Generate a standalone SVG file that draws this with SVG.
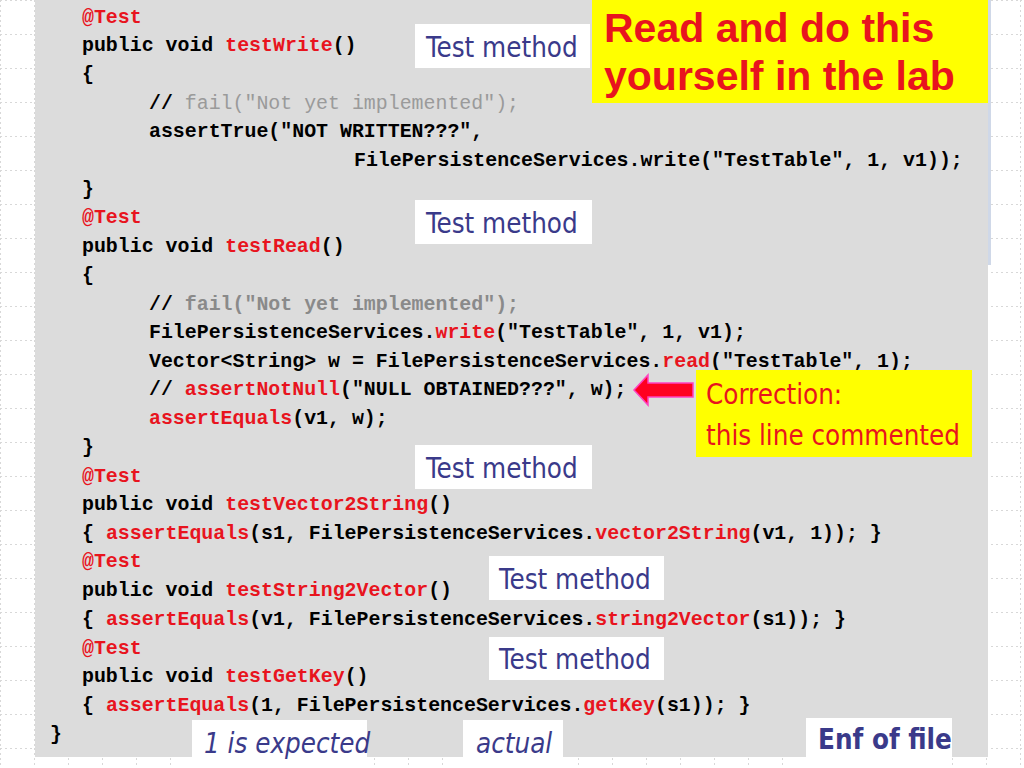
<svg xmlns="http://www.w3.org/2000/svg" width="1024" height="768" viewBox="0 0 1024 768">
<style>
.c{font-family:"Liberation Mono",monospace;font-weight:bold;font-size:19.9px;fill:#000;white-space:pre}
.r{fill:#e8141e}.g{fill:#9a9a9a;font-weight:normal}.g2{fill:#8a8a8a}
.lb{fill:#fff}
.lt{font-family:"DejaVu Sans Condensed","Liberation Sans",sans-serif;font-size:27.5px;fill:#3a3a8a}
</style>
<defs>
<pattern id="grid" width="34" height="34" patternUnits="userSpaceOnUse">
<path d="M0 0.5H34M0.5 0V34" stroke="#d8d8d8" stroke-dasharray="2 3" fill="none"/>
</pattern>
</defs>
<rect width="1024" height="768" fill="#fff"/>
<rect width="1024" height="768" fill="url(#grid)"/>
<rect x="35" y="0" width="953" height="757" fill="#dcdcdc"/>
<rect x="988" y="0" width="3" height="265" fill="#cfd8e8"/>
<g id="code" class="c">
<text x="82" y="23" class="r">@Test</text>
<text x="82" y="51">public void <tspan class="r">testWrite</tspan>()</text>
<text x="82" y="80">{</text>
<text x="149" y="109">// <tspan class="g">fail("Not yet implemented");</tspan></text>
<text x="149" y="137">assertTrue("NOT WRITTEN???",</text>
<text x="354" y="166">FilePersistenceServices.write("TestTable", 1, v1));</text>
<text x="82" y="195">}</text>
<text x="82" y="223" class="r">@Test</text>
<text x="82" y="252">public void <tspan class="r">testRead</tspan>()</text>
<text x="82" y="281">{</text>
<text x="149" y="310">// <tspan class="g2">fail("Not yet implemented");</tspan></text>
<text x="149" y="338">FilePersistenceServices.<tspan class="r">write</tspan>("TestTable", 1, v1);</text>
<text x="149" y="367">Vector&lt;String&gt; w = FilePersistenceServices.<tspan class="r">read</tspan>("TestTable", 1);</text>
<text x="149" y="395">// <tspan class="r">assertNotNull</tspan>("NULL OBTAINED???", w);</text>
<text x="149" y="424"><tspan class="r">assertEquals</tspan>(v1, w);</text>
<text x="82" y="453">}</text>
<text x="82" y="482" class="r">@Test</text>
<text x="82" y="510">public void <tspan class="r">testVector2String</tspan>()</text>
<text x="82" y="539">{ <tspan class="r">assertEquals</tspan>(s1, FilePersistenceServices.<tspan class="r">vector2String</tspan>(v1, 1)); }</text>
<text x="82" y="567" class="r">@Test</text>
<text x="82" y="596">public void <tspan class="r">testString2Vector</tspan>()</text>
<text x="82" y="625">{ <tspan class="r">assertEquals</tspan>(v1, FilePersistenceServices.<tspan class="r">string2Vector</tspan>(s1)); }</text>
<text x="82" y="654" class="r">@Test</text>
<text x="82" y="682">public void <tspan class="r">testGetKey</tspan>()</text>
<text x="82" y="711">{ <tspan class="r">assertEquals</tspan>(1, FilePersistenceServices.<tspan class="r">getKey</tspan>(s1)); }</text>
<text x="50" y="740">}</text>
</g>
<g id="tm1"><rect x="415" y="24" width="175" height="44" class="lb"/><text x="426" y="57" class="lt">Test method</text></g>
<g id="tm2"><rect x="415" y="200" width="177" height="44" class="lb"/><text x="426" y="233" class="lt">Test method</text></g>
<g id="tm3"><rect x="415" y="445" width="177" height="44" class="lb"/><text x="426" y="478" class="lt">Test method</text></g>
<g id="tm4"><rect x="489" y="556" width="175" height="44" class="lb"/><text x="499" y="589" class="lt">Test method</text></g>
<g id="tm5"><rect x="489" y="637" width="175" height="43" class="lb"/><text x="499" y="669" class="lt">Test method</text></g>
<g id="note"><rect x="592" y="0" width="396" height="103" fill="#ffff00"/>
<text font-family="Liberation Sans,sans-serif" font-weight="bold" font-size="41" fill="#e8141e"><tspan x="604" y="42">Read and do this</tspan><tspan x="604" y="90">yourself in the lab</tspan></text></g>
<g id="correction"><rect x="696" y="370" width="276" height="87" fill="#ffff00"/>
<text font-family="DejaVu Sans Condensed,Liberation Sans,sans-serif" font-size="27.5" fill="#e8141e"><tspan x="706" y="404">Correction:</tspan><tspan x="706" y="445">this line commented</tspan></text></g>
<g id="connectors"><path d="M634 390 L648 375 L648 383 L693 383 L693 397 L648 397 L648 405 Z" fill="#ff0020" stroke="#ff40c0" stroke-width="1.5"/></g>
<g id="expected"><rect x="192" y="720" width="175" height="48" class="lb"/><text x="204" y="753" class="lt" font-style="italic">1 is expected</text></g>
<g id="actual"><rect x="463" y="720" width="100" height="48" class="lb"/><text x="476" y="753" class="lt" font-style="italic">actual</text></g>
<g id="eof"><rect x="806" y="718" width="146" height="50" class="lb"/><text x="818" y="749" class="lt" font-weight="bold">Enf of file</text></g>
</svg>
